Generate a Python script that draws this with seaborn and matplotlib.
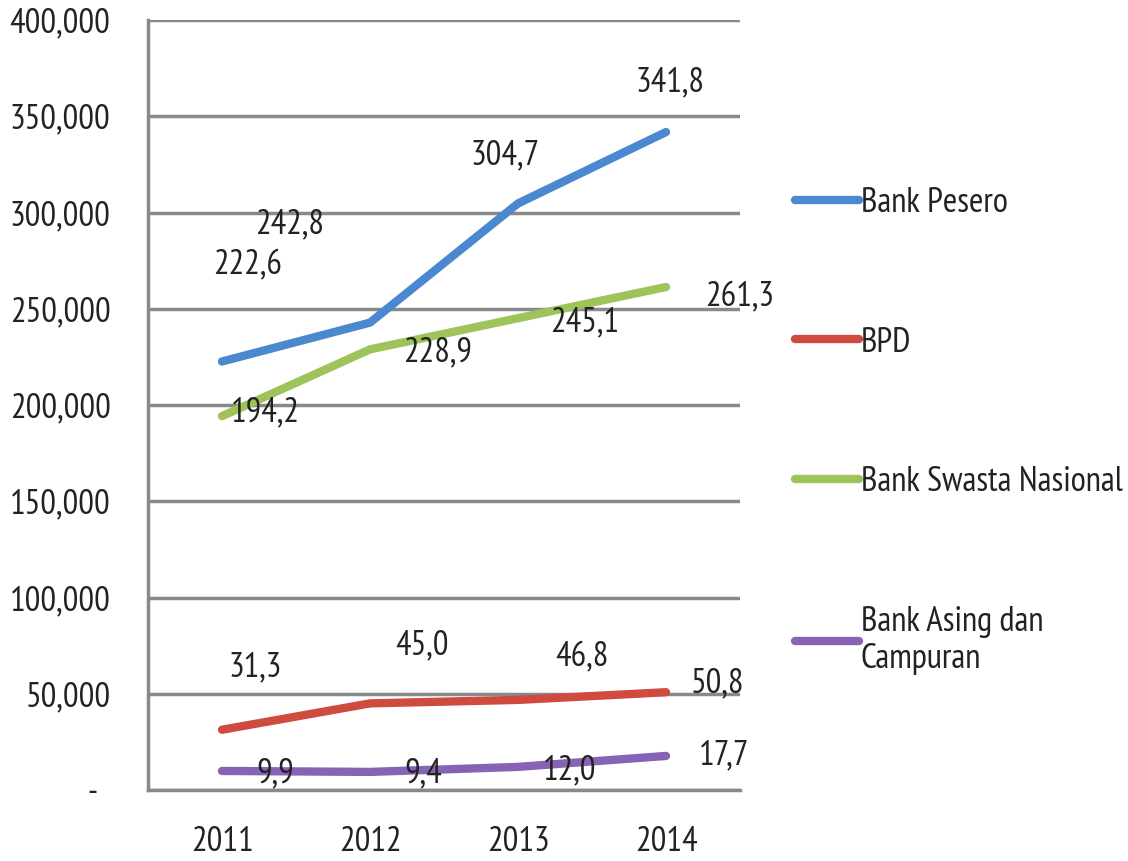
import matplotlib
matplotlib.use("Agg")
from matplotlib import pyplot as plt
from matplotlib.ticker import FuncFormatter, FixedLocator
import seaborn as sns
import pandas as pd

# data (Rp miliar, ribuan)
years = ["2011", "2012", "2013", "2014"]
bank_pesero = [222.6, 242.8, 304.7, 341.8]
bpd = [31.3, 45.0, 46.8, 50.8]
bank_swasta = [194.2, 228.9, 245.1, 261.3]
bank_asing = [9.9, 9.4, 12.0, 17.7]
series_names = ["Bank Pesero", "BPD", "Bank Swasta Nasional", "Bank Asing dan\nCampuran"]

colors = ["#4A88CF", "#CF4B3F", "#9DC35A", "#8663B5"]

# posisi label data (pixel, dx / dy ke atas)
label_offsets = [
    [(26, 96), (-80, 98), (-13, 48), (4, 50)],
    [(33, 62), (52, 58), (64, 43), (52, 9)],
    [(43, 4), (68, -3), (67, -4), (74, -10)],
    [(53, -2), (53, -1), (52, -3), (58, 1)],
]

all_values = [bank_pesero, bpd, bank_swasta, bank_asing]
rows = []
for name, vals in zip(series_names, all_values):
    for yr, v in zip(years, vals):
        rows.append({"tahun": yr, "nilai": v * 1000, "bank": name})
df = pd.DataFrame(rows)

sns.set_style("white")
plt.rcParams["font.family"] = ["PT Sans Narrow", "DejaVu Sans"]
fs = 25

fig = plt.figure(figsize=(11.28, 8.61), dpi=100)
ax = fig.add_axes([148 / 1128, 1 - 790 / 861, (740 - 148) / 1128, (790 - 20) / 861])

sns.lineplot(data=df, x="tahun", y="nilai", hue="bank", hue_order=series_names,
             palette=dict(zip(series_names, colors)), linewidth=6, ax=ax,
             sort=False, legend=True)

grid_col = "#898989"
txt_col = "#222222"
ax.set_ylim(0, 400000)
ax.set_xlim(-0.5, 3.5)
ax.set_yticks(range(0, 400001, 50000))
ax.yaxis.set_major_formatter(FuncFormatter(lambda v, p: "-  " if v == 0 else f"{int(v):,}"))
ax.grid(axis="y", color=grid_col, linewidth=2.5)
ax.set_axisbelow(True)
for side in ["top", "right"]:
    ax.spines[side].set_visible(False)
for side in ["left", "bottom"]:
    ax.spines[side].set_color(grid_col)
    ax.spines[side].set_linewidth(2.5)

ax.xaxis.set_minor_locator(FixedLocator([-0.5, 0.5, 1.5, 2.5, 3.5]))
ax.tick_params(axis="x", which="major", length=0, pad=26, labelsize=fs, labelcolor=txt_col)
ax.tick_params(axis="x", which="minor", length=8, width=2.5, color=grid_col, direction="out")
ax.tick_params(axis="y", length=8, width=2.5, color=grid_col, direction="out", pad=19,
               labelsize=fs, labelcolor=txt_col)
ax.set_xlabel("")
ax.set_ylabel("")

for s, vals in enumerate(all_values):
    for i, v in enumerate(vals):
        dx, dy = label_offsets[s][i]
        ax.annotate(f"{v:.1f}".replace(".", ","), xy=(i, v * 1000), xytext=(dx, dy),
                    textcoords="offset pixels", ha="center", va="center",
                    fontsize=fs, color=txt_col)

handles, labels = ax.get_legend_handles_labels()
ax.legend_.remove()
fig.legend(handles, labels, loc="upper left", bbox_to_anchor=(795 / 1128, 1 - 187 / 861),
           frameon=False, fontsize=fs, handlelength=1.85, handletextpad=0.05,
           labelspacing=3.1, borderpad=0, borderaxespad=0, labelcolor=txt_col)

fig.savefig("out.png", dpi=100)
